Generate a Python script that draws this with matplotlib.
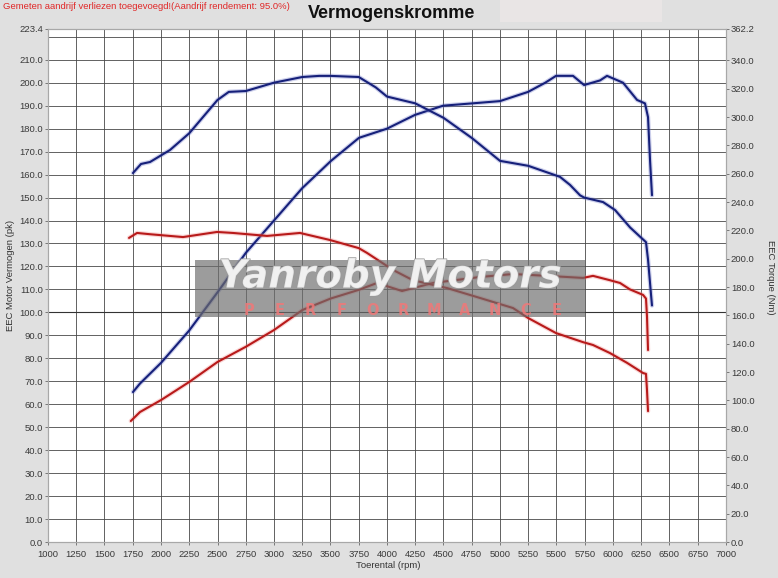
import matplotlib
matplotlib.use("Agg")
import matplotlib.pyplot as plt
import matplotlib.patheffects as pe
from matplotlib.patches import Rectangle

# blue run: power (pk) and torque (Nm)
blue_pk_rpm = [1752, 1814, 2000, 2248, 2504, 2752, 3000, 3248, 3505, 3752, 4000,
               4248, 4496, 4752, 5000, 5248, 5400, 5496, 5646, 5744, 5885, 5947,
               6089, 6213, 6283, 6310, 6328, 6345]
blue_pk = [65.3, 69.0, 78.0, 92.0, 109.0, 126.0, 140.0, 154.0, 166.0, 176.0, 180.0,
           186.0, 190.0, 191.0, 192.0, 196.0, 200.0, 203.0, 203.0, 199.0, 201.0, 203.0,
           200.0, 192.5, 191.0, 185.0, 166.0, 151.0]

blue_nm_rpm = [1752, 1823, 1903, 2080, 2250, 2500, 2600, 2750, 3000, 3250, 3400,
               3500, 3750, 3900, 4000, 4250, 4500, 4750, 5000, 5250, 5531, 5620,
               5708, 5744, 5912, 6018, 6151, 6239, 6292, 6310, 6336, 6345]
blue_nm = [260.5, 266.9, 268.3, 276.8, 288.6, 312.1, 317.8, 318.4, 324.3, 328.3, 329.1,
           329.1, 328.3, 321.0, 314.5, 309.7, 299.5, 285.3, 269.1, 265.6, 257.8, 252.1,
           244.8, 243.2, 240.0, 234.4, 222.1, 215.6, 211.7, 199.4, 175.1, 167.0]

# red run: power (pk) and torque (Nm)
red_pk_rpm = [1733, 1814, 2000, 2250, 2500, 2750, 3000, 3250, 3500, 3750, 3912,
              4133, 4407, 4823, 5115, 5416, 5735, 5823, 5973, 6062, 6150, 6266,
              6292, 6301, 6310]
red_pk = [52.7, 56.6, 61.8, 69.7, 78.4, 85.0, 92.3, 101.0, 106.0, 109.8, 112.8,
          109.3, 112.8, 115.4, 116.7, 115.9, 115.0, 115.9, 114.0, 112.8, 110.0, 107.6,
          106.0, 98.0, 83.6]

red_nm_rpm = [1717, 1788, 1903, 2195, 2496, 2637, 2938, 3230, 3496, 3750, 3823,
              4053, 4230, 4531, 4823, 5115, 5248, 5496, 5735, 5823, 5973, 6124,
              6266, 6292, 6301, 6310]
red_nm = [214.7, 218.2, 217.3, 215.3, 218.9, 218.2, 216.1, 218.2, 213.2, 207.5, 204.1,
          192.1, 184.8, 179.3, 172.3, 165.2, 158.2, 147.5, 141.1, 139.1, 133.4, 126.5,
          119.3, 118.7, 107.0, 92.4]

pk_ticks = [0, 10, 20, 30, 40, 50, 60, 70, 80, 90, 100, 110, 120, 130, 140, 150,
            160, 170, 180, 190, 200, 210, 223.4]
nm_ticks = [0, 20, 40, 60, 80, 100, 120, 140, 160, 180, 200, 220, 240, 260, 280,
            300, 320, 340, 362.2]
rpm_ticks = list(range(1000, 7001, 250))

plt.rcParams['font.family'] = ['Liberation Sans', 'DejaVu Sans']

fig = plt.figure(figsize=(7.78, 5.78), dpi=100, facecolor='#e0e0e0')
ax = fig.add_axes([48 / 778, 36 / 578, 678 / 778, 513 / 578])
ax.set_facecolor('white')
ax.set_xlim(1000, 7000)
ax.set_ylim(0, 223.4)
ax2 = ax.twinx()
ax2.set_ylim(0, 362.2)

# grid
for r in rpm_ticks[1:-1]:
    ax.axvline(r, color='#484848', lw=0.6, zorder=1)
for v in range(10, 221, 10):
    ax.axhline(v, color='#333333' if v == 100 else '#484848',
               lw=0.8 if v == 100 else 0.6, zorder=1)

ax.set_xticks(rpm_ticks)
ax.set_xticklabels([str(r) for r in rpm_ticks])
ax.set_yticks(pk_ticks)
ax.set_yticklabels(['%.1f' % v for v in pk_ticks])
ax2.set_yticks(nm_ticks)
ax2.set_yticklabels(['%.1f' % v for v in nm_ticks])

for a in (ax, ax2):
    a.tick_params(labelsize=6.8, labelcolor='#3a3a3a', color='#777777',
                  length=2.5, width=0.7, pad=1)
    for s in a.spines.values():
        s.set_color('#a8a8a8')
        s.set_linewidth(0.8)
ax.tick_params(axis='x', pad=3)

blue = '#16207a'
red = '#b81a1a'


def curve(a, x, y, color, halo):
    a.plot(x, y, color=halo, lw=3.2, alpha=0.35, solid_capstyle='round', zorder=3)
    a.plot(x, y, color=color, lw=1.5, solid_capstyle='round', zorder=4)


curve(ax, blue_pk_rpm, blue_pk, blue, '#6f78c8')
curve(ax, red_pk_rpm, red_pk, red, '#f08a8a')
curve(ax2, blue_nm_rpm, blue_nm, blue, '#6f78c8')
curve(ax2, red_nm_rpm, red_nm, red, '#f08a8a')

# watermark
ax2.add_patch(Rectangle((2300, 98.0 * 362.2 / 223.4), 3452, 24.8 * 362.2 / 223.4,
                        facecolor='#6e6e6e', alpha=0.68, edgecolor='none', zorder=6))
ax2.text(4027, 115.6 * 362.2 / 223.4, 'Yanroby Motors', fontsize=28,
         family='DejaVu Sans', weight='bold', style='italic', color='#f4f4f4',
         alpha=0.85, ha='center', va='center', zorder=7,
         path_effects=[pe.withStroke(linewidth=1.2, foreground='#9a9a9a')])
letters = 'PERFORMANCE'
for i, ch in enumerate(letters):
    xr = 2780 + i * (5500 - 2780) / (len(letters) - 1)
    ax2.text(xr, 101.0 * 362.2 / 223.4, ch, fontsize=10.5, family='DejaVu Sans',
             weight='bold', color='#f07878', alpha=0.85, ha='center', va='center',
             zorder=7)

# header texts
fig.patches.append(Rectangle((500 / 778, 1 - 22 / 578), 162 / 778, 22 / 578,
                             transform=fig.transFigure, facecolor='#e9e5e5',
                             edgecolor='none'))
fig.text(3 / 778, 1 - 6.5 / 578,
         'Gemeten aandrijf verliezen toegevoegd!(Aandrijf rendement: 95.0%)',
         fontsize=6.8, color='#e02828', ha='left', va='center')
fig.text(392 / 778, 1 - 13 / 578, 'Vermogenskromme', fontsize=13, weight='bold',
         color='#111111', ha='center', va='center')
fig.text(11 / 778, 1 - 275 / 578, 'EEC Motor Vermogen (pk)', fontsize=6.8,
         color='#333333', rotation=90, ha='center', va='center')
fig.text(770 / 778, 1 - 277 / 578, 'EEC Torque (Nm)', fontsize=6.8,
         color='#333333', rotation=270, ha='center', va='center')
fig.text(388 / 778, 1 - 566 / 578, 'Toerental (rpm)', fontsize=6.8,
         color='#333333', ha='center', va='center')

fig.savefig('out.png', dpi=100, facecolor=fig.get_facecolor())
